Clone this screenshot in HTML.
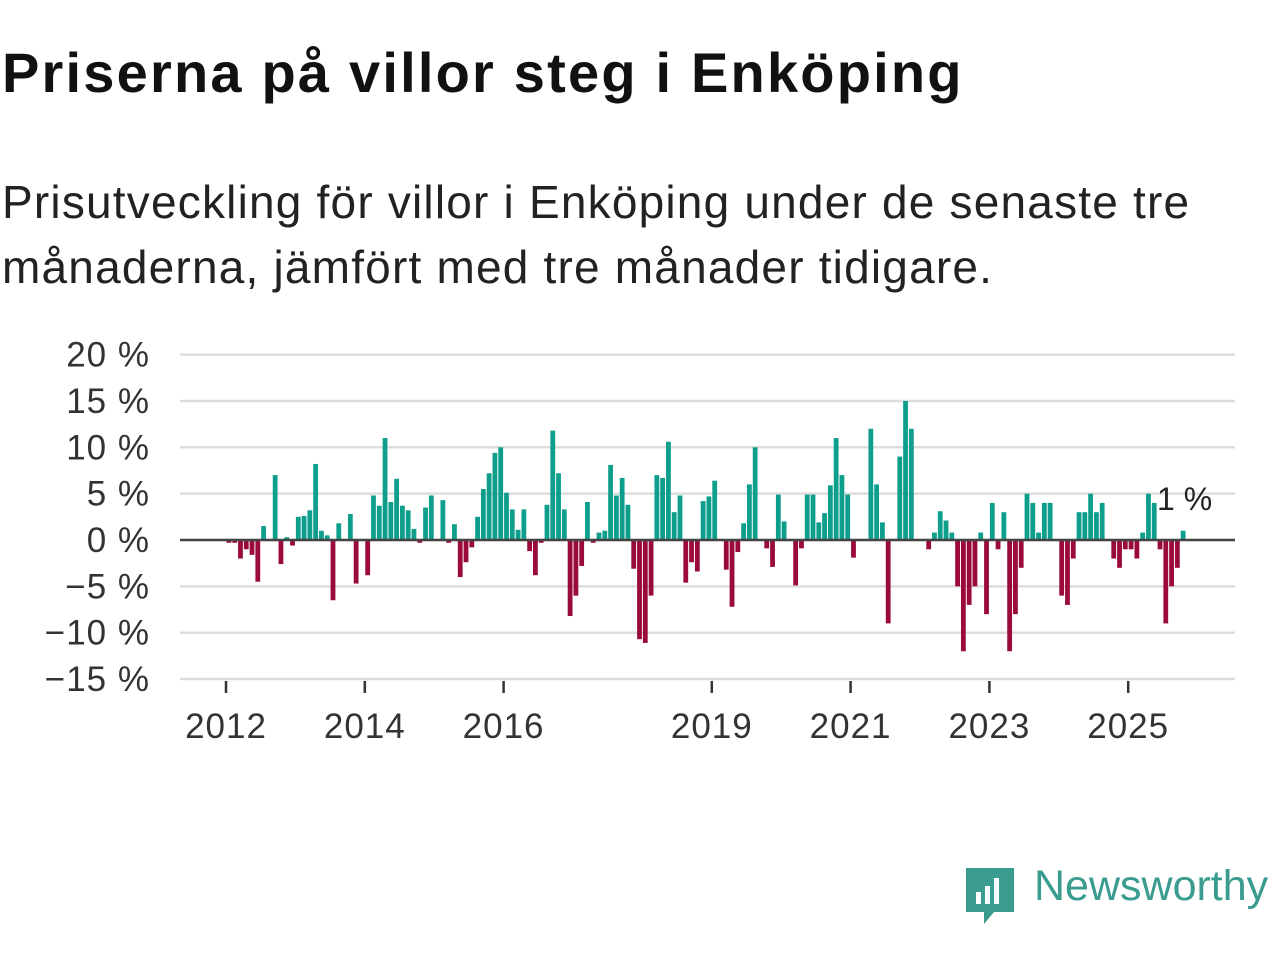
<!DOCTYPE html>
<html><head><meta charset="utf-8"><style>
body{margin:0;background:#fff;width:1280px;height:960px;overflow:hidden;font-family:"Liberation Sans","DejaVu Sans",sans-serif;}
h1{position:absolute;left:2px;top:40px;margin:0;font-size:56px;font-weight:bold;color:#111;letter-spacing:2.2px;white-space:nowrap}
.sub{position:absolute;left:2px;top:170px;margin:0;font-size:46px;line-height:65px;color:#222;width:1278px;letter-spacing:1.2px}
</style></head><body>
<h1>Priserna på villor steg i Enköping</h1>
<p class="sub">Prisutveckling för villor i Enköping under de senaste tre<br>månaderna, jämfört med tre månader tidigare.</p>
<svg id="chart" width="1280" height="960" style="position:absolute;left:0;top:0"></svg>
<div style="position:absolute;left:964px;top:866px;">
<svg width="52" height="60"><path d="M2 2h48v44H30l-10 12v-12H2z" fill="#3a9b8f"/><rect x="12" y="26" width="5" height="12" fill="#fff"/><rect x="21" y="20" width="5" height="18" fill="#fff"/><rect x="30" y="12" width="5" height="26" fill="#fff"/></svg>
</div>
<div style="position:absolute;left:1034px;top:862px;font-size:43px;color:#3a9b8f;">Newsworthy</div>
<script>
const years=[2012,2014,2016,2019,2021,2023,2025];
const yTicks=[20,15,10,5,0,-5,-10,-15];
const yTickLabels=["20 %","15 %","10 %","5 %","0 %","\u22125 %","\u221210 %","\u221215 %"];
const startYear=2012;
const values=[-0.3,-0.3,-2,-1,-1.6,-4.5,1.5,0,7,-2.6,0.3,-0.6,2.5,2.6,3.2,8.2,1,0.5,-6.5,1.8,0,2.8,-4.7,0,-3.8,4.8,3.7,11,4.1,6.6,3.7,3.2,1.2,-0.3,3.5,4.8,0,4.3,-0.3,1.7,-4,-2.4,-0.8,2.5,5.5,7.2,9.4,10,5.1,3.3,1.1,3.3,-1.2,-3.8,-0.3,3.8,11.8,7.2,3.3,-8.2,-6,-2.8,4.1,-0.3,0.8,1,8.1,4.8,6.7,3.8,-3.1,-10.7,-11.1,-6,7,6.7,10.6,3,4.8,-4.6,-2.4,-3.4,4.2,4.7,6.4,0,-3.2,-7.2,-1.3,1.8,6,10,0,-0.9,-2.9,4.9,2,0,-4.9,-0.9,4.9,4.9,1.9,2.9,5.9,11,7,4.9,-1.9,0,0,12,6,1.9,-9,0,9,15,12,0,0,-1,0.8,3.1,2.1,0.8,-5,-12,-7,-5,0.8,-8,4,-1,3,-12,-8,-3,5,4,0.8,4,4,0,-6,-7,-2,3,3,5,3,4,0,-2,-3,-1,-1,-2,0.8,5,4,-1,-9,-5,-3,1];
const lastLabel="1 %";
const NS="http://www.w3.org/2000/svg";
const svg=document.getElementById('chart');
const X0=180,X1=1235;
function y(v){return 540-v*9.27;}
function xYear(yr){return 226+(yr-2012)*69.4;}
function xMonth(i){return xYear(startYear)+(i+0.5)*69.4/12;}
function mk(t,a){const e=document.createElementNS(NS,t);for(const k in a)e.setAttribute(k,a[k]);svg.appendChild(e);return e;}
yTicks.forEach((v,i)=>{
 const g=mk('line',{x1:X0,x2:X1,y1:y(v),y2:y(v),stroke:'#ddd','stroke-width':2.5});
 
 
 const t=mk('text',{x:150,y:y(v)+12,'text-anchor':'end','font-size':35,fill:'#333','letter-spacing':1});
 t.textContent=yTickLabels[i];
 
 
});
values.forEach((v,i)=>{
 const x=xMonth(i);
 const r=mk('rect',{x:x-2.4,width:4.8,y:v>=0?y(v):y(0),height:Math.abs(v)*9.27,fill:v>=0?'#0d9e8c':'#9a0a3c'});
 
 
});
const z=mk('line',{x1:X0,x2:X1,y1:y(0),y2:y(0),stroke:'#444','stroke-width':2.5});


years.forEach(yr=>{
 const x=xYear(yr);
 const tk=mk('line',{x1:x,x2:x,y1:681,y2:693,stroke:'#333','stroke-width':2.5});
 
 
 const t=mk('text',{x:x,y:738,'text-anchor':'middle','font-size':35,fill:'#333','letter-spacing':1});
 t.textContent=yr;
 
 
});
const lb=mk('text',{x:1157,y:510,'font-size':32,fill:'#222'});
lb.textContent=lastLabel;


</script>
</body></html>
